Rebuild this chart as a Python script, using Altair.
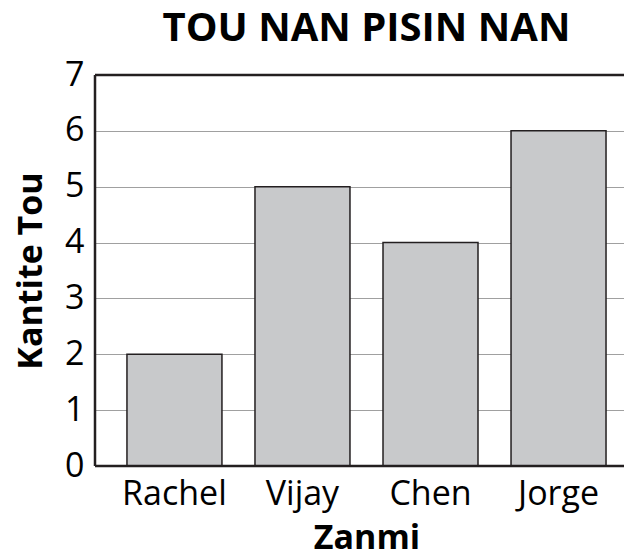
import altair as alt
import pandas as pd

names = ["Rachel", "Vijay", "Chen", "Jorge"]
counts = [2, 5, 4, 6]
y_ticks = [0, 1, 2, 3, 4, 5, 6, 7]

df = pd.DataFrame({"Zanmi": names, "Kantite": counts})
border = pd.DataFrame({"lo": [0], "hi": [7]})

FONT = "Open Sans"
DARK = "#231f20"

base = alt.Chart(df)

bars = base.mark_bar(
    color="#c8c9cb", stroke=DARK, strokeWidth=1.5
).encode(
    x=alt.X("Zanmi:N", sort=names,
            scale=alt.Scale(paddingInner=0.258, paddingOuter=0.195, align=0.64),
            axis=alt.Axis(title="Zanmi", labelAngle=0, labelFontSize=34,
                          labelFont=FONT, labelColor="black", labelPadding=11,
                          ticks=False, domain=False,
                          titleFontSize=34, titleFont=FONT, titleFontWeight="bold",
                          titleColor="black", titlePadding=10, titleX=271.5)),
    y=alt.Y("Kantite:Q", scale=alt.Scale(domain=[0, 7], nice=False),
            axis=alt.Axis(title="Kantite Tou", values=y_ticks, format="d",
                          labelFontSize=34, labelFont=FONT, labelColor="black",
                          labelPadding=11, ticks=False, domain=False,
                          gridColor="#a0a0a0", gridWidth=1, gridOpacity=1,
                          titleFontSize=34, titleFont=FONT, titleFontWeight="bold",
                          titleColor="black", titlePadding=16)),
)

bb = alt.Chart(border)
top_rule = bb.mark_rule(color=DARK, strokeWidth=2.5).encode(
    y=alt.Y("hi:Q"), x=alt.value(0), x2=alt.value(529))
bottom_rule = bb.mark_rule(color=DARK, strokeWidth=2.5).encode(
    y=alt.Y("lo:Q"), x=alt.value(0), x2=alt.value(529))
left_rule = bb.mark_rule(color=DARK, strokeWidth=2.5).encode(
    y=alt.Y("lo:Q"), y2=alt.Y2("hi:Q"), x=alt.value(0))

chart = alt.layer(bars, top_rule, bottom_rule, left_rule).properties(
    width=529, height=391,
    title=alt.Title("TOU NAN PISIN NAN", fontSize=40, font=FONT,
                    fontWeight="bold", color="black", offset=9, dx=7,
                    anchor="middle"),
    padding={"left": 87, "top": 67, "right": 0, "bottom": 90},
    autosize=alt.AutoSizeParams(type="none"),
).configure_view(stroke=None)

chart.save("out.html", embed_options={"renderer": "svg", "actions": False})
